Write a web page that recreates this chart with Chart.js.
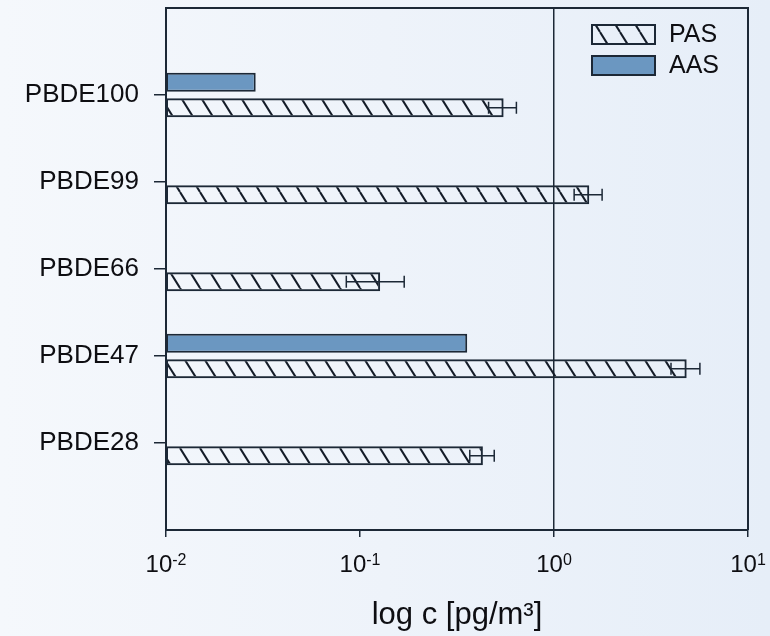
<!DOCTYPE html>
<html>
<head>
<meta charset="utf-8">
<script src="https://cdn.jsdelivr.net/npm/chart.js@4.4.1/dist/chart.umd.min.js"></script>
<style>
html, body { margin: 0; padding: 0; }
body { width: 770px; height: 636px; overflow: hidden;
       background: linear-gradient(90deg, #f5f8fc 0%, #eef3fa 50%, #e6eef8 100%); }
#wrap { width: 770px; height: 636px; position: relative; }
</style>
</head>
<body>
<div id="wrap"><canvas id="pbdeChart"></canvas></div>
<script>
// Data (pg/m3)
const congeners = ['PBDE100', 'PBDE99', 'PBDE66', 'PBDE47', 'PBDE28'];
const pasValues = [0.55, 1.52, 0.127, 4.83, 0.43];
const pasErrors = [0.09, 0.25, 0.042, 0.82, 0.062];
const aasValues = [0.029, null, null, 0.357, null];
const xTicks = [0.01, 0.1, 1, 10];
const xTickExponents = ['-2', '-1', '0', '1'];
const seriesLabels = ['PAS', 'AAS'];

const ink = '#1c2836';
const textColor = '#0e0e12';
const aasColor = '#6b97c1';
const fontFamily = "'Liberation Sans', Arial, sans-serif";

function makeHatch() {
    const tile = document.createElement('canvas');
    tile.width = 20;
    tile.height = 32;
    const g = tile.getContext('2d');
    g.strokeStyle = '#141c28';
    g.lineWidth = 2;
    [-20, 0, 20].forEach(dx => {
        g.beginPath();
        g.moveTo(dx, 0);
        g.lineTo(dx + 20, 32);
        g.stroke();
    });
    return g.createPattern(tile, 'repeat');
}
const hatch = makeHatch();

// error bars on the PAS series
const errorBars = {
    id: 'errorBars',
    afterDatasetsDraw(chart) {
        const meta = chart.getDatasetMeta(1);
        const xs = chart.scales.x;
        const ctx = chart.ctx;
        ctx.save();
        ctx.strokeStyle = ink;
        ctx.lineWidth = 1.5;
        meta.data.forEach((bar, i) => {
            const x0 = xs.getPixelForValue(pasValues[i] - pasErrors[i]);
            const x1 = xs.getPixelForValue(pasValues[i] + pasErrors[i]);
            const y = bar.y;
            ctx.beginPath();
            ctx.moveTo(x0, y); ctx.lineTo(x1, y);
            ctx.moveTo(x0, y - 6); ctx.lineTo(x0, y + 6);
            ctx.moveTo(x1, y - 6); ctx.lineTo(x1, y + 6);
            ctx.stroke();
        });
        ctx.restore();
    }
};

// frame, legend, and 10^n tick labels
const decorations = {
    id: 'decorations',
    afterDraw(chart) {
        const ctx = chart.ctx;
        const area = chart.chartArea;
        const xs = chart.scales.x;
        ctx.save();

        // top + right frame
        ctx.strokeStyle = ink;
        ctx.lineWidth = 2;
        ctx.beginPath();
        ctx.moveTo(area.left, area.top);
        ctx.lineTo(area.right, area.top);
        ctx.lineTo(area.right, area.bottom);
        ctx.stroke();

        // x tick labels with superscripts
        ctx.fillStyle = textColor;
        ctx.textBaseline = 'alphabetic';
        xTicks.forEach((v, i) => {
            const px = xs.getPixelForValue(v);
            ctx.font = '24px ' + fontFamily;
            const wBase = ctx.measureText('10').width;
            ctx.font = '16px ' + fontFamily;
            const wExp = ctx.measureText(xTickExponents[i]).width;
            const start = px - (wBase + wExp) / 2;
            ctx.textAlign = 'left';
            ctx.font = '24px ' + fontFamily;
            ctx.fillText('10', start, area.bottom + 42);
            ctx.font = '16px ' + fontFamily;
            ctx.fillText(xTickExponents[i], start + wBase, area.bottom + 35);
        });

        // legend
        const bx = area.right - 156;
        const items = [
            { label: seriesLabels[0], fill: hatch, y: area.top + 17 },
            { label: seriesLabels[1], fill: aasColor, y: area.top + 48 }
        ];
        items.forEach(it => {
            ctx.fillStyle = it.fill;
            ctx.fillRect(bx, it.y, 63, 19);
            ctx.strokeStyle = ink;
            ctx.lineWidth = 2;
            ctx.strokeRect(bx, it.y, 63, 19);
            ctx.fillStyle = textColor;
            ctx.font = '25px ' + fontFamily;
            ctx.textAlign = 'left';
            ctx.textBaseline = 'middle';
            ctx.fillText(it.label, bx + 77, it.y + 10);
        });
        ctx.restore();
    }
};

new Chart(document.getElementById('pbdeChart').getContext('2d'), {
    type: 'bar',
    data: {
        datasets: [{
            label: seriesLabels[1],
            data: aasValues.map((v, i) => ({ x: v, y: i + 1 })),
            backgroundColor: aasColor,
            borderColor: ink,
            borderWidth: 2,
            borderSkipped: false
        }, {
            label: seriesLabels[0],
            data: pasValues.map((v, i) => ({ x: v, y: i + 1 })),
            backgroundColor: hatch,
            borderColor: ink,
            borderWidth: 2,
            borderSkipped: false
        }]
    },
    options: {
        indexAxis: 'y',
        responsive: true,
        maintainAspectRatio: false,
        animation: false,
        categoryPercentage: 0.585,
        barPercentage: 0.745,
        layout: { padding: { top: 8, right: 22, left: 0, bottom: 0 } },
        plugins: { legend: { display: false }, tooltip: { enabled: false } },
        scales: {
            x: {
                type: 'logarithmic',
                min: 0.01,
                max: 10,
                afterBuildTicks: axis => { axis.ticks = xTicks.map(v => ({ value: v })); },
                afterFit: axis => { axis.height = 106; axis.paddingLeft = 0; axis.paddingRight = 0; },
                grid: {
                    drawOnChartArea: true,
                    color: c => (c.tick && c.tick.value === 1) ? ink : 'rgba(0,0,0,0)',
                    tickColor: ink,
                    tickLength: 7,
                    lineWidth: 1.5
                },
                border: { color: ink, width: 2 },
                ticks: { display: false },
                title: {
                    display: true,
                    text: 'log c [pg/m³]',
                    color: textColor,
                    font: { family: fontFamily, size: 31 },
                    padding: { top: 0, bottom: 2 }
                }
            },
            y: {
                type: 'linear',
                reverse: true,
                offset: false,
                min: 0,
                max: 6,
                afterFit: axis => { axis.width = 166; axis.paddingTop = 0; axis.paddingBottom = 0; },
                ticks: {
                    stepSize: 1,
                    autoSkip: false,
                    padding: 15,
                    color: textColor,
                    font: { family: fontFamily, size: 26 },
                    callback: v => congeners[v - 1] || ''
                },
                grid: {
                    offset: false,
                    drawOnChartArea: false,
                    tickLength: 12,
                    lineWidth: 1.5,
                    tickColor: c => (c.tick && c.tick.value >= 1 && c.tick.value <= 5) ? ink : 'rgba(0,0,0,0)'
                },
                border: { color: ink, width: 2 }
            }
        }
    },
    plugins: [errorBars, decorations]
});
</script>
</body>
</html>
